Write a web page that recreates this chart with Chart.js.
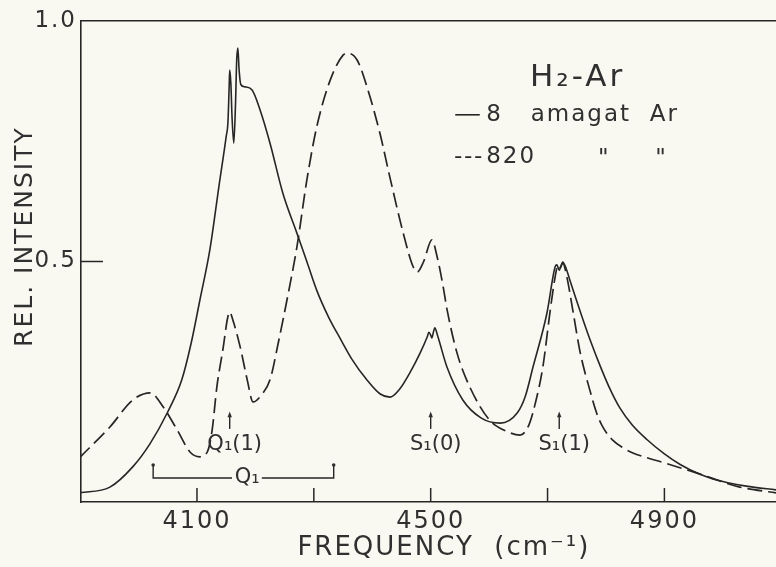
<!DOCTYPE html>
<html>
<head>
<meta charset="utf-8">
<script src="https://cdn.jsdelivr.net/npm/chart.js@4/dist/chart.umd.min.js"></script>
<style>
html,body{margin:0;padding:0;background:#f9f9f2;}
canvas{display:block;}
</style>
</head>
<body>
<canvas id="c" width="776" height="567"></canvas>
<script>
// ---- data ----
const freq8 = [3898, 3951, 3990, 4020, 4049, 4074, 4090, 4105, 4122, 4138, 4150, 4153, 4155, 4156, 4158, 4160, 4163, 4166, 4168, 4170, 4172, 4175, 4182, 4194, 4208, 4225, 4247, 4271, 4288, 4305, 4325, 4345, 4365, 4390, 4413, 4430, 4447, 4465, 4482, 4494, 4497, 4500, 4502, 4505, 4507, 4512, 4528, 4555, 4586, 4619, 4648, 4662, 4675, 4699, 4713, 4716, 4720, 4726, 4732, 4738, 4761, 4775, 4790, 4805, 4824, 4845, 4870, 4900, 4927, 4960, 4983, 5040, 5093];
const rel8 = [0.019, 0.031, 0.073, 0.122, 0.185, 0.254, 0.33, 0.42, 0.524, 0.66, 0.76, 0.79, 0.86, 0.898, 0.87, 0.80, 0.746, 0.83, 0.92, 0.944, 0.90, 0.868, 0.863, 0.857, 0.815, 0.746, 0.642, 0.559, 0.50, 0.44, 0.385, 0.34, 0.297, 0.255, 0.225, 0.218, 0.235, 0.27, 0.31, 0.343, 0.353, 0.347, 0.341, 0.355, 0.362, 0.345, 0.28, 0.212, 0.175, 0.164, 0.185, 0.22, 0.28, 0.393, 0.489, 0.493, 0.482, 0.499, 0.485, 0.462, 0.378, 0.33, 0.283, 0.24, 0.195, 0.16, 0.13, 0.1, 0.078, 0.058, 0.048, 0.033, 0.025];

const freq820 = [3898, 3951, 3990, 4020, 4042, 4066, 4088, 4105, 4118, 4126, 4134, 4145, 4152, 4156, 4161, 4174, 4186, 4196, 4210, 4225, 4239, 4254, 4271, 4288, 4305, 4328, 4350, 4358, 4374, 4391, 4413, 4430, 4453, 4470, 4477, 4488, 4502, 4511, 4521, 4528, 4545, 4567, 4601, 4630, 4653, 4668, 4680, 4692, 4704, 4713, 4718, 4722, 4726, 4733, 4744, 4756, 4773, 4784, 4795, 4812, 4830, 4846, 4870, 4898, 4956, 5029, 5091];
const rel820 = [0.091, 0.156, 0.212, 0.227, 0.198, 0.15, 0.104, 0.094, 0.105, 0.15, 0.239, 0.322, 0.38, 0.395, 0.38, 0.322, 0.254, 0.208, 0.222, 0.254, 0.33, 0.42, 0.53, 0.669, 0.78, 0.877, 0.929, 0.933, 0.919, 0.863, 0.767, 0.676, 0.559, 0.489, 0.478, 0.50, 0.545, 0.51, 0.45, 0.40, 0.31, 0.239, 0.17, 0.147, 0.139, 0.16, 0.21, 0.281, 0.393, 0.468, 0.493, 0.488, 0.497, 0.468, 0.393, 0.31, 0.23, 0.185, 0.155, 0.128, 0.112, 0.102, 0.092, 0.082, 0.06, 0.031, 0.019];

const seriesNames = ['8 amagat Ar', '820 amagat Ar'];
const xTicks = [4100, 4300, 4500, 4700, 4900];
const xTickLabels = ['4100', '', '4500', '', '4900'];
const yTicks = [0, 0.5, 1.0];
const yTickLabels = ['', '0.5', '1.0'];
const lineMarks = ['Q₁(1)', 'S₁(0)', 'S₁(1)'];
const lineMarkFreq = [4156, 4500, 4720];
const bandName = 'Q₁';
const bandRange = [4025, 4334];

// ---- styling ----
const INK = '#262626';
const TXT = '#303030';
const FONT = '"DejaVu Sans", "Liberation Sans", sans-serif';

const toPts = (xs, ys) => xs.map((v, i) => ({x: v, y: ys[i]}));

const spacing = {
  id: 'spacing',
  beforeDraw(chart) {
    const ctx = chart.ctx;
    ctx.save();
    ctx.fillStyle = '#f9f9f2';
    ctx.fillRect(0, 0, chart.width, chart.height);
    ctx.restore();
    ctx.letterSpacing = '2px';
  },
  afterDraw(chart) { chart.ctx.letterSpacing = '0px'; }
};

const annot = {
  id: 'annot',
  afterDatasetsDraw(chart) {
    const {ctx, scales: {x, y}} = chart;
    const X = v => x.getPixelForValue(v);
    const Y = v => y.getPixelForValue(v);
    ctx.save();
    ctx.strokeStyle = INK;
    ctx.fillStyle = TXT;
    ctx.lineWidth = 1.5;
    ctx.setLineDash([]);

    // inward ticks on the x axis
    const y0 = Y(0);
    xTicks.forEach(v => {
      ctx.beginPath(); ctx.moveTo(X(v), y0); ctx.lineTo(X(v), y0 - 14); ctx.stroke();
    });
    // inward tick on the y axis at 0.5
    ctx.beginPath(); ctx.moveTo(X(x.min), Y(0.5)); ctx.lineTo(X(x.min) + 22, Y(0.5)); ctx.stroke();

    // Title of the system
    ctx.textBaseline = 'middle';
    ctx.textAlign = 'left';
    ctx.letterSpacing = '3px';
    ctx.font = '31px ' + FONT;
    ctx.fillText('H₂-Ar', X(4670), Y(0.881));

    // legend
    ctx.font = '23px ' + FONT;
    ctx.letterSpacing = '2px';
    ctx.lineWidth = 1.6;
    ctx.beginPath(); ctx.moveTo(X(4542), Y(0.805)); ctx.lineTo(X(4584), Y(0.805)); ctx.stroke();
    ctx.fillText('8   amagat  Ar', X(4595), Y(0.805));
    ctx.setLineDash([6, 4]);
    ctx.beginPath(); ctx.moveTo(X(4542), Y(0.717)); ctx.lineTo(X(4590), Y(0.717)); ctx.stroke();
    ctx.setLineDash([]);
    ctx.fillText('820', X(4595), Y(0.717));
    ctx.textAlign = 'center';
    ctx.fillText('"', X(4797), Y(0.712));
    ctx.fillText('"', X(4895), Y(0.712));

    // line markers with arrows
    ctx.font = '21px ' + FONT;
    ctx.letterSpacing = '0px';
    lineMarks.forEach((t, i) => {
      const f = lineMarkFreq[i];
      const px = X(f);
      ctx.lineWidth = 1.4;
      ctx.beginPath(); ctx.moveTo(px, Y(0.152)); ctx.lineTo(px, Y(0.183)); ctx.stroke();
      ctx.beginPath();
      ctx.moveTo(px, Y(0.188)); ctx.lineTo(px - 2.2, Y(0.176)); ctx.lineTo(px + 2.2, Y(0.176)); ctx.closePath(); ctx.fill();
      ctx.fillText(t, px + 5, Y(0.12));
    });

    // band bracket
    const yb = Y(0.05), yt = Y(0.077);
    ctx.lineWidth = 1.4;
    ctx.beginPath();
    ctx.moveTo(X(bandRange[0]), yt); ctx.lineTo(X(bandRange[0]), yb); ctx.lineTo(X(4160), yb);
    ctx.moveTo(X(4211), yb); ctx.lineTo(X(bandRange[1]), yb); ctx.lineTo(X(bandRange[1]), yt);
    ctx.stroke();
    [bandRange[0], bandRange[1]].forEach(f => {
      ctx.beginPath(); ctx.arc(X(f), yt, 1.8, 0, Math.PI * 2); ctx.fill();
    });
    ctx.fillText(bandName, X(4186), yb);
    ctx.restore();
  }
};

new Chart(document.getElementById('c'), {
  type: 'scatter',
  data: {
    datasets: [
      {
        label: seriesNames[0],
        data: toPts(freq8, rel8),
        showLine: true,
        borderColor: INK,
        borderWidth: 1.6,
        pointRadius: 0,
        cubicInterpolationMode: 'monotone',
        fill: false
      },
      {
        label: seriesNames[1],
        data: toPts(freq820, rel820),
        showLine: true,
        borderColor: INK,
        borderWidth: 1.7,
        borderDash: [15, 6],
        pointRadius: 0,
        cubicInterpolationMode: 'monotone',
        fill: false
      }
    ]
  },
  options: {
    responsive: false,
    devicePixelRatio: 1,
    animation: false,
    layout: {padding: {top: 21, right: 0, left: 0, bottom: 0}},
    plugins: {legend: {display: false}, tooltip: {enabled: false}},
    scales: {
      x: {
        type: 'linear',
        position: 'bottom',
        min: 3901.5,
        max: 5091,
        grid: {display: false, drawTicks: false},
        border: {display: true, color: INK, width: 1.6},
        afterBuildTicks: s => { s.ticks = xTicks.map(v => ({value: v})); },
        afterFit: s => { s.height = 65; },
        ticks: {
          autoSkip: false, maxRotation: 0, padding: 5, color: TXT,
          font: {family: FONT, size: 24},
          callback: (v) => { const i = xTicks.indexOf(v); return i >= 0 ? xTickLabels[i] : ''; }
        },
        title: {display: true, text: '   FREQUENCY  (cm⁻¹)', color: TXT, font: {family: FONT, size: 26}, padding: {top: 4, bottom: 3}}
      },
      x2: {
        type: 'linear',
        position: 'top',
        min: 3901.5,
        max: 5091,
        grid: {display: false, drawTicks: false},
        border: {display: true, color: INK, width: 1.6},
        ticks: {display: false},
        afterFit: s => { s.height = 0; }
      },
      y: {
        min: 0,
        max: 1,
        grid: {display: false, drawTicks: false},
        border: {display: true, color: INK, width: 1.6},
        afterBuildTicks: s => { s.ticks = yTicks.map(v => ({value: v})); },
        afterFit: s => { s.width = 81; },
        ticks: {
          padding: 4, color: TXT, font: {family: FONT, size: 23},
          callback: (v) => { const i = yTicks.indexOf(v); return i >= 0 ? yTickLabels[i] : ''; }
        },
        title: {display: true, text: '     REL. INTENSITY', color: TXT, font: {family: FONT, size: 25}, padding: {top: 10, bottom: 0}}
      }
    }
  },
  plugins: [spacing, annot]
});
</script>
</body>
</html>
